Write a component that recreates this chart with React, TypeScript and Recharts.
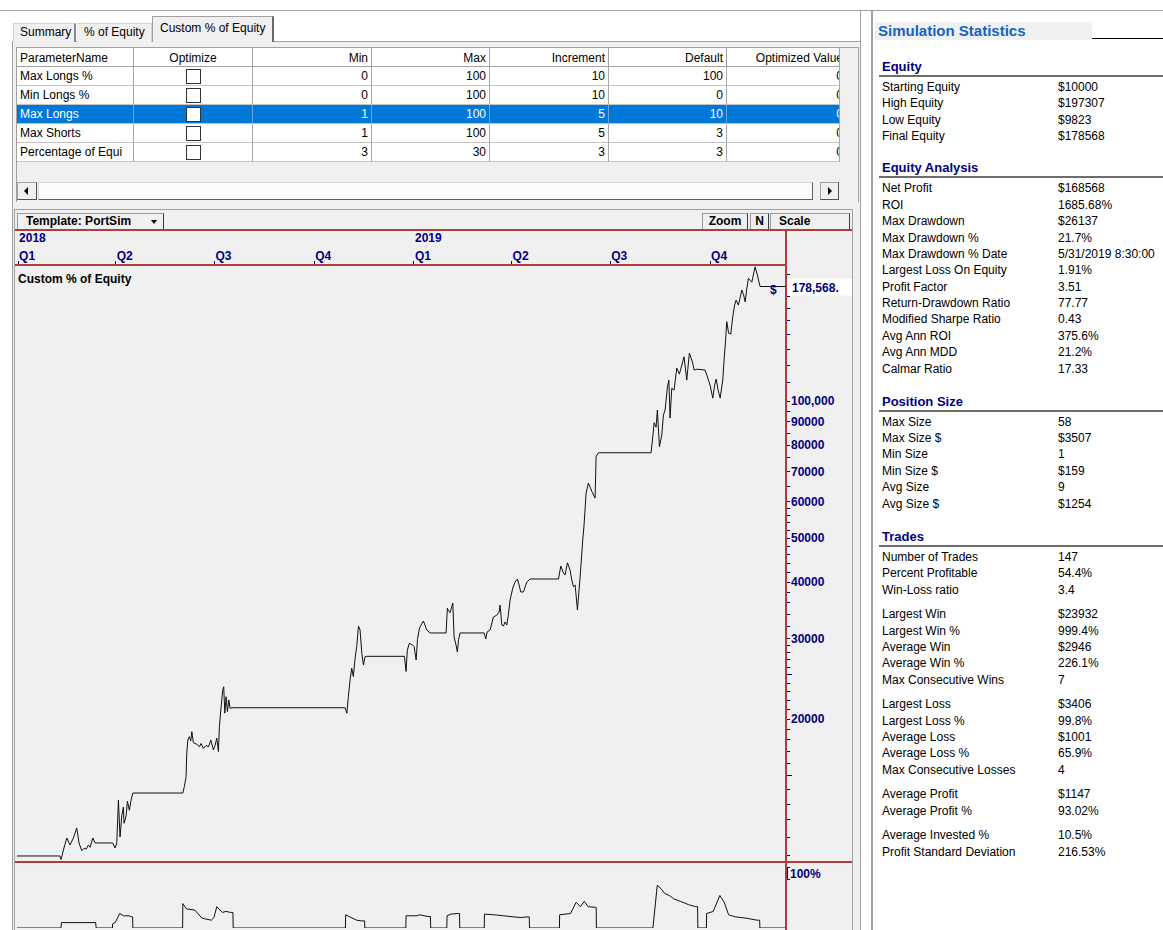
import React from "react";
import { LineChart, Line, XAxis, YAxis } from "recharts";

const FONT = '"Liberation Sans", Arial, Helvetica, sans-serif';
const NAVY = "#000080";
const RED = "#b23b3b";
const PANEL = "#f0f0f0";

// quarter starts, counted in days from 1 Jan 2018
const quarterDays = [0, 90, 181, 273, 365, 455, 546, 638];
const quarterLabels = ["Q1", "Q2", "Q3", "Q4", "Q1", "Q2", "Q3", "Q4"];
const yearLabels = ["2018", "", "", "", "2019", "", "", ""];

const equityMajorTicks = [20000, 30000, 40000, 50000, 60000, 70000, 80000, 90000, 100000];
const equityMinorTicks = [
  10000, 11000, 12000, 13000, 14000, 15000, 16000, 17000, 18000, 19000,
  21000, 22000, 23000, 24000, 25000, 26000, 27000, 28000, 29000,
  32000, 34000, 36000, 38000, 42000, 44000, 46000, 48000, 52000, 54000, 56000, 58000,
  65000, 75000, 85000, 95000,
  110000, 120000, 130000, 140000, 150000, 160000, 170000, 180000, 190000,
];
const equityHalfTicks = [15000, 25000];
const finalEquity = 178568;

// [day, equity $]
const equityCurve: [number, number][] = [
  [-1, 10000], [38.5, 10000], [39.6, 9823], [41.8, 10308], [44.9, 10955], [47.9, 10570],
  [51, 10955], [54.1, 11521], [56.2, 10680], [58.7, 10270], [60.9, 10400], [62.7, 10350],
  [64.8, 10570], [66.4, 10450], [68.9, 10955], [71, 10680], [87.3, 10680], [89.4, 10413],
  [91, 10680], [92.5, 13274], [94, 11010], [95.6, 12250], [97.1, 12812], [97.7, 11800],
  [99.6, 12250], [100.8, 13200], [102.6, 12600], [104.2, 13274], [105.8, 13753],
  [151.9, 13753], [153.3, 14210], [154.9, 14940], [155.5, 16820], [156.5, 17985], [157.9, 18290],
  [159.2, 17900], [160.2, 18760], [161.6, 17740], [164.8, 17600], [167.2, 17380], [168.7, 17670],
  [170.8, 17240], [173.3, 17500], [175.5, 17380], [177.7, 17985], [180.1, 17100], [181.6, 17500],
  [183.2, 18160], [184.7, 16960], [185.6, 19240], [186.9, 20940], [188.7, 23160], [189.6, 23550],
  [190.6, 20600], [191.8, 22390], [193, 20760], [194.3, 22030], [195.5, 21120], [198, 21180],
  [301.5, 21180], [303.1, 20600], [304.5, 22390], [306.1, 24400], [307.6, 25870], [309.1, 24790],
  [310.7, 27170], [312.3, 29000], [313.8, 32030], [315.3, 31390], [316.9, 27900], [318.4, 26290],
  [319.9, 27410], [321.5, 27470],
  [356.2, 27470], [357.7, 25440], [358.9, 28350], [360.8, 29340], [363.9, 29070], [365.1, 28840],
  [367, 26970], [368.2, 29880], [370, 31650], [371.6, 32200], [373.7, 32850], [376.8, 31390],
  [379.9, 30920],
  [394.6, 30920], [395.8, 35070], [396.5, 34700], [398.3, 34270], [400.8, 35970], [402, 30300],
  [403.8, 29070], [405, 28080], [406.1, 29880], [407.5, 30920],
  [429.7, 30920], [431.2, 29990], [432.4, 31070], [435.2, 31390], [438.2, 33510], [441.4, 33850],
  [443.5, 34370], [444.4, 35610], [446, 32190], [447.5, 32030], [449, 32700], [450.6, 32190],
  [452, 33850], [453.6, 36530], [456.1, 38820], [458.2, 40000], [460.4, 40630], [461.9, 39410],
  [463.5, 38040], [465.9, 38040], [469, 40000], [472.1, 40630],
  [498.2, 40630], [500.4, 43380], [502.8, 41880], [504.3, 41460], [506.5, 44110], [508.9, 42510],
  [510.5, 40420], [512, 39070], [513.6, 39410], [515.7, 34730], [518.2, 41100], [520.6, 49480],
  [521.8, 53360], [523.7, 62800], [525.8, 66050], [529, 63300], [532, 61190], [532.9, 75430],
  [535, 76970],
  [583.6, 76970], [585.2, 83480], [586.4, 89610], [588.2, 87600], [589.4, 95540], [591.3, 79350],
  [593.5, 84220], [595, 93160], [596.5, 95540], [598.7, 107350], [600, 111200], [601.1, 91740],
  [602.7, 106700], [604.8, 105700], [607.3, 118170], [609.7, 114600], [614, 125100], [616.5, 111200],
  [618.9, 127500], [622, 121200], [623.3, 116990], [626, 117500], [633.4, 116990], [636.5, 111200],
  [638, 108400], [640.5, 101500], [642.2, 108400], [643.6, 111800], [645.4, 105700], [647.3, 101500],
  [649.7, 111200], [650.9, 123060], [652.3, 136100], [653.4, 149400], [655.1, 141000], [657.1, 140400],
  [658.9, 153200], [660.6, 162500], [662, 166700], [664.1, 162500], [667.3, 175400], [668.9, 171200],
  [670.3, 165200], [671.7, 175400], [673.3, 186100], [676.5, 182600], [679.5, 197307], [681.6, 189200],
  [684.1, 178568], [708, 178568],
];

// [day, % of equity invested]
const investedCurve: [number, number][] = [
  [-1, 0], [39.5, 0], [40, 8.7], [71.5, 8.7], [72, 0],
  [87, 0], [87.1, 6.6], [89.6, 9], [93.7, 23.4], [97.2, 19.7], [102.3, 19.7], [104.8, 17.9], [105.6, 17.9], [105.8, 0],
  [151.7, 0], [151.9, 39.3], [155.4, 30.6], [162.9, 29], [169.5, 15.9], [178.1, 12.6], [180.6, 16.9],
  [183.2, 34.4], [188.3, 25.1], [191.8, 26.8], [195.8, 25.1], [198.1, 25.1], [198.3, 0],
  [301.8, 0], [302, 21.3], [307, 16.9], [312.2, 12.6], [316.2, 11.5], [319.5, 11.5], [319.7, 0],
  [357.5, 0], [357.7, 19.7], [367.8, 19.7], [370.3, 21.3], [377.9, 18.5], [380.2, 18.5], [380.4, 0],
  [395.3, 0], [395.5, 19.7], [399.1, 22.4], [405.7, 23.4], [407, 23.4], [407.2, 0],
  [429.8, 0], [430, 22.4], [438.6, 21.3], [447.7, 19.7], [456.3, 18], [463.9, 16.9], [470.4, 18], [471.3, 18], [471.5, 0],
  [499.1, 0], [499.3, 21.3], [509.4, 23.4], [514.5, 41.5], [518.5, 34.4], [522, 43.1], [525.5, 34.4], [532.2, 33.3], [533, 33.3], [533.2, 0],
  [585.3, 0], [589.3, 68.9], [592.8, 63.4], [596.4, 55.2], [600.4, 52.5], [604.5, 47], [610.5, 43.1], [618.1, 37.7], [624.7, 34.4], [626.5, 34.4], [626.7, 0],
  [634.6, 0], [634.8, 23.4], [640.9, 26.7], [647, 52.5], [651, 41.5], [655.1, 21.3], [661.1, 18], [671.2, 15.9], [681.4, 12.6], [683.7, 12.6], [683.9, 0],
  [708, 0],
];

// parameter grid
const gridColumns = ["ParameterName", "Optimize", "Min", "Max", "Increment", "Default", "Optimized Value"];
const paramNames = ["Max Longs %", "Min Longs %", "Max Longs", "Max Shorts", "Percentage of Equi"];
const paramMin = [0, 0, 1, 1, 3];
const paramMax = [100, 100, 100, 100, 30];
const paramIncrement = [10, 10, 5, 5, 3];
const paramDefault = [100, 0, 10, 3, 3];
const paramOptimized = [0, 0, 0, 0, 0];
const selectedRow = 2;

// simulation statistics
const equityStats: [string, string][] = [
  ["Starting Equity", "$10000"], ["High Equity", "$197307"], ["Low Equity", "$9823"], ["Final Equity", "$178568"],
];
const equityAnalysisStats: [string, string][] = [
  ["Net Profit", "$168568"], ["ROI", "1685.68%"], ["Max Drawdown", "$26137"], ["Max Drawdown %", "21.7%"],
  ["Max Drawdown % Date", "5/31/2019 8:30:00"], ["Largest Loss On Equity", "1.91%"], ["Profit Factor", "3.51"],
  ["Return-Drawdown Ratio", "77.77"], ["Modified Sharpe Ratio", "0.43"], ["Avg Ann ROI", "375.6%"],
  ["Avg Ann MDD", "21.2%"], ["Calmar Ratio", "17.33"],
];
const positionSizeStats: [string, string][] = [
  ["Max Size", "58"], ["Max Size $", "$3507"], ["Min Size", "1"], ["Min Size $", "$159"], ["Avg Size", "9"], ["Avg Size $", "$1254"],
];
const tradeStats: [string, string][][] = [
  [["Number of Trades", "147"], ["Percent Profitable", "54.4%"], ["Win-Loss ratio", "3.4"]],
  [["Largest Win", "$23932"], ["Largest Win %", "999.4%"], ["Average Win", "$2946"], ["Average Win %", "226.1%"], ["Max Consecutive Wins", "7"]],
  [["Largest Loss", "$3406"], ["Largest Loss %", "99.8%"], ["Average Loss", "$1001"], ["Average Loss %", "65.9%"], ["Max Consecutive Losses", "4"]],
  [["Average Profit", "$1147"], ["Average Profit %", "93.02%"]],
  [["Average Invested %", "10.5%"], ["Profit Standard Deviation", "216.53%"]],
];

const equityData = equityCurve.map(([day, equity]) => ({ day, equity }));
const investedData = investedCurve.map(([day, pct]) => ({ day, pct }));

const abs = (left: number, top: number, width: number, height: number, extra: React.CSSProperties = {}): React.CSSProperties => ({
  position: "absolute", left, top, width, height, boxSizing: "border-box", ...extra,
});

function QuarterTick(props: any) {
  const { x, y, payload } = props;
  const i = quarterDays.indexOf(payload.value);
  const txt = { fill: NAVY, fontSize: 12, fontWeight: "bold" as const, fontFamily: FONT };
  return (
    <g>
      <line x1={x} x2={x} y1={y - 4} y2={y} stroke={NAVY} shapeRendering="crispEdges" />
      <text x={x + 1} y={y - 5} {...txt}>{quarterLabels[i]}</text>
      {yearLabels[i] ? <text x={x + 1} y={y - 23} {...txt}>{yearLabels[i]}</text> : null}
    </g>
  );
}

function EquityTick(props: any) {
  const { x, y, payload } = props;
  const v = payload.value;
  const txt = { fill: NAVY, fontSize: 12, fontWeight: "bold" as const, fontFamily: FONT };
  if (v === finalEquity) {
    return (
      <g>
        <rect x={x + 1} y={y - 8} width={65} height={17} fill="#ffffff" />
        <text x={x + 6} y={y + 5} {...txt}>{v.toLocaleString("en-US") + "."}</text>
        <text x={x - 16} y={y + 7} {...txt}>$</text>
      </g>
    );
  }
  const major = equityMajorTicks.includes(v);
  const len = equityHalfTicks.includes(v) ? 6 : 4;
  return (
    <g>
      <line x1={x} x2={x + len} y1={y} y2={y} stroke={NAVY} shapeRendering="crispEdges" />
      {major ? (
        <text x={x + 5} y={y + 4} {...txt}>{v >= 100000 ? v.toLocaleString("en-US") : String(v)}</text>
      ) : null}
    </g>
  );
}

function InvestedTick(props: any) {
  const { x, y, payload } = props;
  return (
    <g>
      <path d={`M${x + 4},${y + 1} H${x + 1} V${y + 13} H${x + 4}`} stroke={NAVY} fill="none" shapeRendering="crispEdges" />
      <text x={x + 4} y={y + 12} fill={NAVY} fontSize={12} fontWeight="bold" fontFamily={FONT}>
        {payload.value + "%"}
      </text>
    </g>
  );
}

function Button({ left, width, label, align = "center", arrow = false }: { left: number; width: number; label: string; align?: string; arrow?: boolean }) {
  return (
    <div
      style={abs(left, 213, width, 17, {
        background: PANEL,
        borderTop: "1px solid #9a9a9a",
        borderLeft: "1px solid #9a9a9a",
        borderRight: "1px solid #3c3c3c",
        borderBottom: "1px solid #3c3c3c",
        fontWeight: "bold",
        fontSize: 12,
        lineHeight: "15px",
        textAlign: align as any,
        paddingLeft: align === "left" ? 8 : 0,
        whiteSpace: "nowrap",
      })}
    >
      {label}
      {arrow ? (
        <span style={{ position: "absolute", left: 133, top: 6, width: 0, height: 0, borderLeft: "3.5px solid transparent", borderRight: "3.5px solid transparent", borderTop: "4px solid #000" }} />
      ) : null}
    </div>
  );
}

const colEdges = [17, 134, 253, 372, 490, 609, 727, 840];

function ParamGrid() {
  const cells: React.ReactNode[] = [];
  gridColumns.forEach((col, c) => {
    const left = colEdges[c];
    const width = colEdges[c + 1] - left;
    const justify = c === 0 ? "flex-start" : c === 1 ? "center" : "flex-end";
    cells.push(
      <div key={"h" + c} style={abs(left, 48, width, 19, {
        background: "#fff", borderRight: "1px solid #a0a0a0", borderBottom: "1px solid #a0a0a0",
        display: "flex", alignItems: "center", justifyContent: justify, padding: "0 3px", overflow: "hidden", whiteSpace: "nowrap",
      })}>
        <span style={{ position: "relative", left: c === 6 ? 7 : 0, top: 1 }}>{col}</span>
      </div>
    );
  });
  paramNames.forEach((name, r) => {
    const sel = r === selectedRow;
    const values = [name, "", paramMin[r], paramMax[r], paramIncrement[r], paramDefault[r], paramOptimized[r]];
    values.forEach((val, c) => {
      const left = colEdges[c];
      const width = colEdges[c + 1] - left;
      const justify = c === 0 ? "flex-start" : c === 1 ? "center" : "flex-end";
      cells.push(
        <div key={r + "-" + c} style={abs(left, 67 + r * 19, width, 19, {
          background: sel ? "#0078d7" : "#fff", color: sel ? "#fff" : "#000",
          borderRight: sel ? "1px solid #6aa6e4" : "1px solid #a8a8a8", borderBottom: "1px solid #c4c4c4",
          display: "flex", alignItems: "center", justifyContent: justify, padding: "0 3px", overflow: "hidden", whiteSpace: "nowrap",
        })}>
          {c === 1 ? (
            <span style={{ width: 15, height: 15, boxSizing: "border-box", background: "#fff", border: "1px solid #333" }} />
          ) : (
            <span style={{ position: "relative", left: c === 6 ? 7 : 0 }}>{String(val)}</span>
          )}
        </div>
      );
    });
  });
  return (
    <>
      <div style={abs(16, 47, 843, 155, { background: PANEL, borderTop: "1px solid #a0a0a0", borderLeft: "1px solid #a0a0a0", borderRight: "1px solid #a0a0a0" })} />
      {cells}
      {/* horizontal scrollbar */}
      <div style={abs(17, 182, 20, 18, { background: PANEL, border: "1px solid #a0a0a0", borderRight: "1px solid #505050", borderBottom: "1px solid #505050" })}>
        <span style={{ position: "absolute", left: 6, top: 4, width: 0, height: 0, borderTop: "4px solid transparent", borderBottom: "4px solid transparent", borderRight: "4px solid #000" }} />
      </div>
      <div style={abs(38, 182, 775, 18, { background: "#fbfbfb", borderTop: "1px solid #d6d6d6", borderLeft: "1px solid #d6d6d6", borderRight: "1px solid #606060", borderBottom: "1px solid #606060" })} />
      <div style={abs(820, 182, 19, 18, { background: PANEL, border: "1px solid #a0a0a0", borderRight: "1px solid #505050", borderBottom: "1px solid #505050" })}>
        <span style={{ position: "absolute", left: 7, top: 4, width: 0, height: 0, borderTop: "4px solid transparent", borderBottom: "4px solid transparent", borderLeft: "4px solid #000" }} />
      </div>
    </>
  );
}

function ChartPane() {
  return (
    <>
      <div style={abs(14, 209, 839, 721, { background: PANEL, borderTop: "1px solid #a0a0a0", borderLeft: "1px solid #a0a0a0", borderRight: "1px solid #a0a0a0" })} />
      <Button left={17} width={147} label="Template: PortSim" align="left" arrow />
      <Button left={702} width={46} label="Zoom" />
      <Button left={750} width={19} label="N" />
      <Button left={770} width={80} label="Scale" align="left" />

      <div style={{ position: "absolute", left: 17, top: 230 }}>
        <LineChart width={835} height={632} data={equityData} margin={{ top: 0, right: 0, bottom: 0, left: 0 }}>
          <XAxis
            dataKey="day" type="number" orientation="top" height={35}
            domain={[-1, 708]} allowDataOverflow ticks={quarterDays} interval={0}
            axisLine={false} tickLine={false} tickSize={0} tickMargin={0} tick={<QuarterTick />}
          />
          <YAxis
            dataKey="equity" type="number" orientation="right" width={66} scale="log"
            domain={[9700, 199100]} allowDataOverflow
            ticks={[...equityMinorTicks, ...equityMajorTicks, finalEquity]} interval={0}
            axisLine={false} tickLine={false} tickSize={0} tickMargin={0} tick={<EquityTick />}
          />
          <Line type="linear" dataKey="equity" stroke="#111" strokeWidth={1} dot={false} activeDot={false} isAnimationActive={false} />
        </LineChart>
      </div>

      <div style={{ position: "absolute", left: 17, top: 862 }}>
        <LineChart width={835} height={67} data={investedData} margin={{ top: 4, right: 0, bottom: 1, left: 0 }}>
          <XAxis dataKey="day" type="number" hide domain={[-1, 708]} allowDataOverflow />
          <YAxis
            dataKey="pct" type="number" orientation="right" width={66} domain={[0, 100]} allowDataOverflow
            ticks={[100]} interval={0} axisLine={false} tickLine={false} tickSize={0} tickMargin={0} tick={<InvestedTick />}
          />
          <Line type="linear" dataKey="pct" stroke="#111" strokeWidth={1} dot={false} activeDot={false} isAnimationActive={false} />
        </LineChart>
      </div>

      {/* panel frame lines */}
      <div style={abs(15, 229, 837, 2, { background: RED })} />
      <div style={abs(15, 264, 771, 2, { background: RED })} />
      <div style={abs(15, 861, 837, 2, { background: RED })} />
      <div style={abs(785, 229, 2, 701, { background: RED })} />

      <div style={abs(18, 272, 200, 15, { fontWeight: "bold", fontSize: 12, lineHeight: "15px", whiteSpace: "nowrap" })}>
        Custom % of Equity
      </div>
    </>
  );
}

function LeftPane() {
  return (
    <>
      {/* tab page */}
      <div style={abs(12, 41, 849, 889, { background: PANEL, borderTop: "1px solid #a0a0a0", borderLeft: "1px solid #a0a0a0", borderRight: "1px solid #a0a0a0" })} />
      <div style={abs(13, 23, 63, 19, { background: PANEL, borderTop: "1px solid #d4d4d4", borderLeft: "1px solid #d4d4d4", borderRight: "2px solid #8a8a8a", paddingLeft: 6, lineHeight: "17px" })}>Summary</div>
      <div style={abs(77, 23, 75, 19, { background: PANEL, borderTop: "1px solid #d4d4d4", borderRight: "1px solid #d4d4d4", paddingLeft: 7, lineHeight: "17px" })}>% of Equity</div>
      <div style={abs(152, 16, 122, 26, { background: PANEL, borderTop: "1px solid #a0a0a0", borderLeft: "1px solid #a0a0a0", borderRight: "2px solid #6a6a6a", paddingLeft: 7, lineHeight: "22px", whiteSpace: "nowrap" })}>Custom % of Equity</div>
      <ParamGrid />
      <ChartPane />
    </>
  );
}

function StatSection({ title, center, groups }: { title: string; center: number; groups: [string, string][][] }) {
  const rows: React.ReactNode[] = [];
  let c = center + 20;
  groups.forEach((g, gi) => {
    if (gi > 0) c += 8.2;
    g.forEach(([label, value]) => {
      const top = Math.round(c - 8);
      rows.push(<div key={label} style={abs(882, top, 175, 16, { lineHeight: "16px", whiteSpace: "nowrap" })}>{label}</div>);
      rows.push(<div key={label + "v"} style={abs(1058, top, 105, 16, { lineHeight: "16px", whiteSpace: "nowrap" })}>{value}</div>);
      c += 16.4;
    });
  });
  return (
    <>
      <div style={abs(882, Math.round(center - 8), 200, 16, { color: NAVY, fontWeight: "bold", fontSize: 13, lineHeight: "16px", whiteSpace: "nowrap" })}>{title}</div>
      <div style={abs(879, Math.round(center + 8), 284, 2, { background: "#6c6c6c" })} />
      {rows}
    </>
  );
}

function StatsPanel() {
  return (
    <>
      <div style={abs(860, 11, 1, 919, { background: "#a0a0a0" })} />
      <div style={abs(871, 11, 2, 919, { background: "#a0a0a0" })} />
      <div style={abs(875, 22, 217, 18, { background: PANEL, color: "#1464c8", fontWeight: "bold", fontSize: 15, lineHeight: "18px", paddingLeft: 3, whiteSpace: "nowrap" })}>
        Simulation Statistics
      </div>
      <div style={abs(1092, 38, 71, 1, { background: "#000" })} />
      <StatSection title="Equity" center={66.7} groups={[equityStats]} />
      <StatSection title="Equity Analysis" center={168.3} groups={[equityAnalysisStats]} />
      <StatSection title="Position Size" center={401.7} groups={[positionSizeStats]} />
      <StatSection title="Trades" center={536.7} groups={tradeStats} />
    </>
  );
}

export default function App() {
  return (
    <div style={{ position: "fixed", left: 0, top: 0, width: 1163, height: 930, overflow: "hidden", background: "#fff", fontFamily: FONT, fontSize: 12, color: "#000" }}>
      <div style={abs(0, 10, 1163, 1, { background: "#a0a0a0" })} />
      <LeftPane />
      <StatsPanel />
    </div>
  );
}
